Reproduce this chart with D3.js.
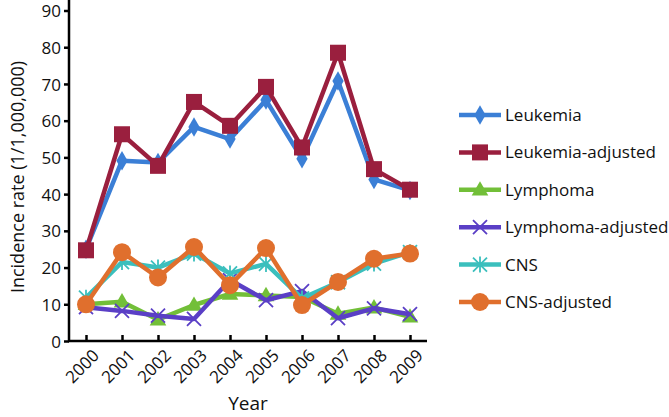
<!DOCTYPE html>
<html><head><meta charset="utf-8">
<script src="https://cdn.jsdelivr.net/npm/d3@7"></script>
<style>body{margin:0;background:#fff}svg{display:block}text{font-family:"Open Sans","Noto Sans",sans-serif;fill:#111}</style>
</head><body><svg id="c" width="669" height="417"></svg>
<script>
const years = ["2000","2001","2002","2003","2004","2005","2006","2007","2008","2009"];
const yTicks = [0,10,20,30,40,50,60,70,80,90];
const seriesNames = ["Leukemia","Leukemia-adjusted","Lymphoma","Lymphoma-adjusted","CNS","CNS-adjusted"];
const leukemia = [25,49.1,48.6,58.3,55,65.6,49.6,70.8,44,41];
const leukemiaAdj = [24.7,56.3,47.7,65.1,58.6,69.2,52.7,78.5,46.8,41.2];
const lymphoma = [10,10.7,5.8,9.8,12.8,12.4,12,7.4,9.1,6.6];
const lymphomaAdj = [9.2,8.2,6.9,6,16.6,11.1,13.6,6.2,8.9,7.3];
const cns = [11.8,21.5,20,23.8,18.4,21,11.6,16,21.1,24.2];
const cnsAdj = [10,24.2,17.3,25.6,15.2,25.3,9.8,16.1,22.4,23.8];
const colors = ["#3b7fd6","#9a1f3e","#72bf38","#5a3fc6","#3bbfbd","#e06f2d"];
const shapes = ["diamond","square","triangle","x","asterisk","circle"];
const allValues = [leukemia,leukemiaAdj,lymphoma,lymphomaAdj,cns,cnsAdj];

const svg = d3.select("#c");
const x = d3.scalePoint().domain(years).range([86,410]);
const y = d3.scaleLinear().domain([0,90]).range([341,10.5]);

// axes
const yAx = svg.append("g").attr("transform","translate(69,0)")
  .call(d3.axisLeft(y).tickValues(yTicks).tickSize(5).tickPadding(3));
yAx.select(".domain").remove();
yAx.selectAll("line").attr("stroke","#000").attr("stroke-width",2.5);
yAx.selectAll("text").style("font-size","17px").attr("dy","0.36em");
svg.append("line").attr("x1",69).attr("x2",69).attr("y1",0).attr("y2",342).attr("stroke","#000").attr("stroke-width",2.5);

const xAx = svg.append("g").attr("transform","translate(0,341)")
  .call(d3.axisBottom(x).tickSize(-6).tickSizeOuter(0).tickPadding(0));
xAx.select(".domain").remove();
xAx.selectAll("line").attr("stroke","#000").attr("stroke-width",2.5);
xAx.selectAll("text").style("font-size","17px").attr("text-anchor","end")
  .attr("transform","translate(5,7) rotate(-45)").attr("dy","0.72em").attr("y",0);
svg.append("line").attr("x1",68).attr("x2",427).attr("y1",341).attr("y2",341).attr("stroke","#000").attr("stroke-width",2.5);

svg.append("text").attr("x",248).attr("y",410).attr("text-anchor","middle").style("font-size","19px").text("Year");
svg.append("text").attr("transform","translate(24,177) rotate(-90)").attr("text-anchor","middle").style("font-size","18px").text("Incidence rate (1/1,000,000)");

function marker(g, shape, color, cx, cy){
  if(shape==="diamond"){
    g.append("path").attr("d",d3.symbol(d3.symbolDiamond,110)()).attr("transform",`translate(${cx},${cy})`).attr("fill",color);
  } else if(shape==="square"){
    g.append("rect").attr("x",cx-8).attr("y",cy-8).attr("width",16).attr("height",16).attr("fill",color);
  } else if(shape==="triangle"){
    g.append("path").attr("d",d3.symbol(d3.symbolTriangle,120)()).attr("transform",`translate(${cx},${cy+1})`).attr("fill",color);
  } else if(shape==="x"){
    g.append("path").attr("d",`M${cx-7},${cy-7}L${cx+7},${cy+7}M${cx-7},${cy+7}L${cx+7},${cy-7}`).attr("stroke",color).attr("stroke-width",1.8);
  } else if(shape==="asterisk"){
    g.append("path").attr("d",`M${cx-7},${cy-7}L${cx+7},${cy+7}M${cx-7},${cy+7}L${cx+7},${cy-7}M${cx},${cy-8}L${cx},${cy+8}`).attr("stroke",color).attr("stroke-width",1.8);
  } else {
    g.append("circle").attr("cx",cx).attr("cy",cy).attr("r",9).attr("fill",color);
  }
}

const line = d3.line().x((d,i)=>x(years[i])).y(d=>y(d));
const order = [2,3,4,5,0,1];
order.forEach(k=>{
  const g = svg.append("g");
  g.append("path").datum(allValues[k]).attr("d",line).attr("fill","none").attr("stroke",colors[k]).attr("stroke-width",4.5).attr("stroke-linejoin","round");
  allValues[k].forEach((v,i)=>marker(g,shapes[k],colors[k],x(years[i]),y(v)));
});

// legend
const legY = d3.scalePoint().domain(seriesNames).range([115,302]);
seriesNames.forEach((n,k)=>{
  const g = svg.append("g");
  const ly = legY(n);
  g.append("line").attr("x1",459).attr("x2",501).attr("y1",ly).attr("y2",ly).attr("stroke",colors[k]).attr("stroke-width",4.5);
  marker(g,shapes[k],colors[k],480,ly);
  g.append("text").attr("x",505).attr("y",ly).attr("dy","0.35em").style("font-size","17px").text(n);
});
</script></body></html>
